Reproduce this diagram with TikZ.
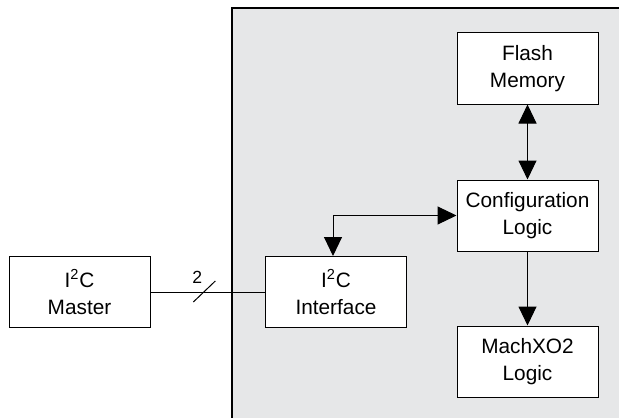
\documentclass[tikz,border=0pt]{standalone}
\usepackage{fontspec}
\setmainfont{Liberation Sans}
\usepackage{xcolor}
\usepackage{tikz}
\usetikzlibrary{arrows.meta, calc, positioning}
\definecolor{panelgray}{HTML}{E6E7E8}
\tikzset{
	block/.style = {draw, fill=white, line width=0.5pt, minimum width=70.5pt, minimum height=35.5pt,
		align=center, inner sep=0pt, font=\fontsize{10.4}{13.4}\selectfont},
	bus/.style = {line width=0.5pt},
	bigtip/.tip = {Triangle[length=9.5pt, width=9pt]},
}
\begin{document}
\begin{tikzpicture}[x=0.5pt, y=-0.5pt]
\useasboundingbox (0,0) rectangle (619,417);
% the device
\draw[fill=panelgray, line width=0.7pt] (232,8) rectangle (630,430);

\node[block] (master) at (79.5,292)   {I\textsuperscript{2}C\\Master};
\node[block] (iface)  at (336,292)    {I\textsuperscript{2}C\\Interface};
\node[block] (flash)  at (527.5,68.5) {Flash\\Memory};
\node[block] (config) at (527.5,215.5){Configuration\\Logic};
\node[block] (machxo) at (527.5,361.5){MachXO2\\Logic};

% two wire bus
\draw[bus] (master.east) -- (iface.west) coordinate[pos=0.47] (cut);
\draw[bus] ($(cut)+(-11,10)$) -- ($(cut)+(11,-11)$);
\node[font=\fontsize{8.8}{10}\selectfont, inner sep=0pt] (width) at ($(cut)+(-7,-15)$) {2};

\draw[bus, bigtip-bigtip] ([xshift=-1.5pt]iface.north) |- (config.west);
\draw[bus, bigtip-bigtip] (flash) -- (config);
\draw[bus, -bigtip] (config) -- (machxo);
\end{tikzpicture}
\end{document}
